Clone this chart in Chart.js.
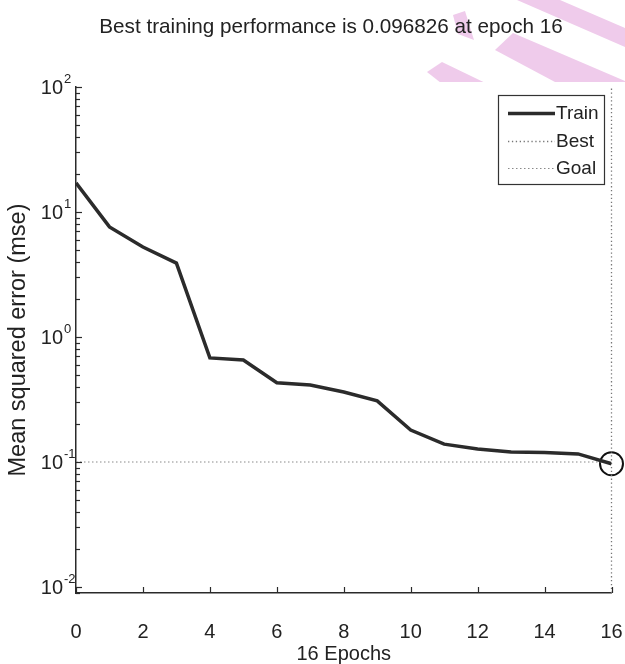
<!DOCTYPE html>
<html>
<head>
<meta charset="utf-8">
<script src="https://cdn.jsdelivr.net/npm/chart.js@4/dist/chart.umd.min.js"></script>
<style>
  html, body { margin: 0; padding: 0; background: #ffffff; }
  #wrap { position: relative; width: 625px; height: 664px; }
</style>
</head>
<body>
<div id="wrap"><canvas id="perf" width="625" height="664"></canvas></div>
<script>
// ---- data ----
const epochs   = [0, 1, 2, 3, 4, 5, 6, 7, 8, 9, 10, 11, 12, 13, 14, 15, 16];
const trainMse = [17.1, 7.6, 5.25, 3.9, 0.68, 0.655, 0.43, 0.413, 0.363, 0.308,
                  0.18, 0.139, 0.127, 0.120, 0.119, 0.116, 0.096826];
const bestEpoch = 16;
const bestPerf  = 0.096826;
const goalMse   = 0.1;

// ---- axes ----
const xTickValues   = [0, 2, 4, 6, 8, 10, 12, 14, 16];
const yDecades      = [0.01, 0.1, 1, 10, 100];
const yDecadeLabels = ['-2', '-1', '0', '1', '2'];
const yMin = Math.pow(10, -2.048);
const yMax = 100;

// ---- text ----
const titleText    = 'Best training performance is 0.096826 at epoch 16';
const xTitleText   = '16 Epochs';
const yTitleText   = 'Mean squared error (mse)';
const legendLabels = ['Train', 'Best', 'Goal'];

const FONT = '"Liberation Sans", Arial, Helvetica, sans-serif';
const INK  = '#222222';
const AXIS = '#2a2a2a';

// log-scale tick list: decades plus 2..9 multiples
function logTicks(lo, hi) {
  const out = [];
  for (let e = Math.floor(Math.log10(lo)); e <= Math.ceil(Math.log10(hi)); e++) {
    for (let m = 1; m <= 9; m++) {
      const v = m * Math.pow(10, e);
      if (v >= lo * 0.999 && v <= hi * 1.001) out.push({ value: v, major: m === 1 });
    }
  }
  return out;
}

// pink ribbons behind the header strip
const ribbonPlugin = {
  id: 'ribbons',
  beforeDraw(chart) {
    const ctx = chart.ctx;
    ctx.save();
    ctx.fillStyle = '#ffffff';
    ctx.fillRect(0, 0, chart.width, chart.height);
    ctx.beginPath();
    ctx.rect(0, 0, chart.width, 82);
    ctx.clip();
    ctx.fillStyle = '#efcbeb';
    const shapes = [
      [[517, 0], [560, 0], [625, 28], [625, 47]],
      [[453, 15], [465, 11], [474, 40], [458, 34]],
      [[513, 33], [625, 81], [625, 90], [570, 90], [495, 50]],
      [[427, 72], [442, 62], [500, 90], [450, 90]]
    ];
    shapes.forEach(pts => {
      ctx.beginPath();
      pts.forEach((p, i) => (i ? ctx.lineTo(p[0], p[1]) : ctx.moveTo(p[0], p[1])));
      ctx.closePath();
      ctx.fill();
    });
    ctx.restore();
  }
};

// title, inward tick marks, y decade labels and the legend box
const decorPlugin = {
  id: 'decor',
  afterDraw(chart) {
    const ctx = chart.ctx;
    const xs = chart.scales.x, ys = chart.scales.y;
    const area = chart.chartArea;
    ctx.save();

    // title
    ctx.fillStyle = INK;
    ctx.font = '20.7px ' + FONT;
    ctx.textAlign = 'center';
    ctx.textBaseline = 'middle';
    ctx.fillText(titleText, 331, 27);

    // tick marks pointing into the plot
    ctx.strokeStyle = AXIS;
    ctx.lineWidth = 1.2;
    ys.ticks.forEach(t => {
      const y = Math.round(ys.getPixelForValue(t.value)) + 0.5;
      const len = t.major ? 6 : 4;
      ctx.beginPath();
      ctx.moveTo(area.left, y);
      ctx.lineTo(area.left + len, y);
      ctx.stroke();
    });
    xs.ticks.forEach(t => {
      const x = Math.round(xs.getPixelForValue(t.value)) + 0.5;
      ctx.beginPath();
      ctx.moveTo(x, area.bottom);
      ctx.lineTo(x, area.bottom - 6);
      ctx.stroke();
    });

    // y decade labels: 10 with a raised exponent
    yDecades.forEach((v, i) => {
      const y = ys.getPixelForValue(v);
      ctx.fillStyle = INK;
      ctx.font = '20px ' + FONT;
      ctx.textAlign = 'right';
      ctx.textBaseline = 'middle';
      ctx.fillText('10', 63, y + 1);
      ctx.font = '13px ' + FONT;
      ctx.textAlign = 'left';
      ctx.fillText(yDecadeLabels[i], 64, y - 8);
    });

    // legend
    const bx = 498, by = 95, bw = 106, bh = 89;
    ctx.fillStyle = '#ffffff';
    ctx.fillRect(bx, by, bw, bh);
    ctx.strokeStyle = '#333333';
    ctx.lineWidth = 1.2;
    ctx.strokeRect(bx + 0.5, by + 0.5, bw, bh);
    const rows = [113, 141, 168];
    const styles = chart.data.datasets;
    legendLabels.forEach((lab, i) => {
      const ds = styles[i];
      const y = rows[i];
      ctx.save();
      ctx.strokeStyle = ds.borderColor;
      ctx.lineWidth = ds.borderWidth;
      ctx.setLineDash(ds.borderDash || []);
      ctx.beginPath();
      ctx.moveTo(508, y + 0.5);
      ctx.lineTo(555, y + 0.5);
      ctx.stroke();
      ctx.restore();
      ctx.fillStyle = INK;
      ctx.font = '19px ' + FONT;
      ctx.textAlign = 'left';
      ctx.textBaseline = 'middle';
      ctx.fillText(lab, 556, y + 1);
    });
    ctx.restore();
  }
};

const trainPoints = epochs.map((e, i) => ({ x: e, y: trainMse[i] }));

new Chart(document.getElementById('perf'), {
  type: 'line',
  data: {
    datasets: [
      {
        label: legendLabels[0],
        data: trainPoints,
        borderColor: '#2b2b2b',
        borderWidth: 3.5,
        pointRadius: 0,
        tension: 0,
        fill: false
      },
      {
        label: legendLabels[1],
        data: [{ x: bestEpoch, y: yMin }, { x: bestEpoch, y: yMax }],
        borderColor: '#777777',
        borderWidth: 1.3,
        borderDash: [1.3, 2.6],
        pointRadius: 0,
        fill: false,
        clip: false
      },
      {
        label: legendLabels[2],
        data: [{ x: epochs[0], y: goalMse }, { x: epochs[epochs.length - 1], y: goalMse }],
        borderColor: '#8a8a8a',
        borderWidth: 1.2,
        borderDash: [1.5, 2.5],
        pointRadius: 0,
        fill: false
      },
      {
        label: 'best point',
        data: [{ x: bestEpoch, y: bestPerf }],
        showLine: false,
        pointStyle: 'circle',
        pointRadius: 11.5,
        pointBorderWidth: 2,
        pointBorderColor: '#111111',
        pointBackgroundColor: 'rgba(0,0,0,0)',
        clip: false
      }
    ]
  },
  options: {
    responsive: false,
    animation: false,
    devicePixelRatio: 1,
    layout: { padding: { top: 87, right: 12, left: 0, bottom: 0 } },
    plugins: {
      legend: { display: false },
      tooltip: { enabled: false },
      title: { display: false }
    },
    scales: {
      x: {
        type: 'linear',
        position: 'bottom',
        min: 0,
        max: 16,
        afterBuildTicks: s => { s.ticks = xTickValues.map(v => ({ value: v })); },
        afterFit: s => { s.height = 71; s.paddingLeft = 0; s.paddingRight = 0; },
        ticks: {
          color: INK,
          font: { family: FONT, size: 20 },
          padding: 27,
          maxRotation: 0,
          autoSkip: false
        },
        grid: { display: true, drawOnChartArea: false, drawTicks: false },
        border: { display: true, color: AXIS, width: 1.5 },
        title: {
          display: true,
          text: xTitleText,
          color: INK,
          font: { family: FONT, size: 20, lineHeight: 1.0 },
          padding: { top: 0, bottom: 0 }
        }
      },
      y: {
        type: 'logarithmic',
        position: 'left',
        min: yMin,
        max: yMax,
        afterBuildTicks: s => { s.ticks = logTicks(yMin, yMax); },
        afterFit: s => { s.width = 76; s.paddingTop = 0; s.paddingBottom = 0; },
        ticks: { display: false },
        grid: { display: true, drawOnChartArea: false, drawTicks: false },
        border: { display: true, color: AXIS, width: 1.5 },
        title: {
          display: true,
          text: yTitleText,
          color: INK,
          font: { family: FONT, size: 23.5 },
          padding: { top: 4, bottom: 0 }
        }
      }
    }
  },
  plugins: [ribbonPlugin, decorPlugin]
});
</script>
</body>
</html>
